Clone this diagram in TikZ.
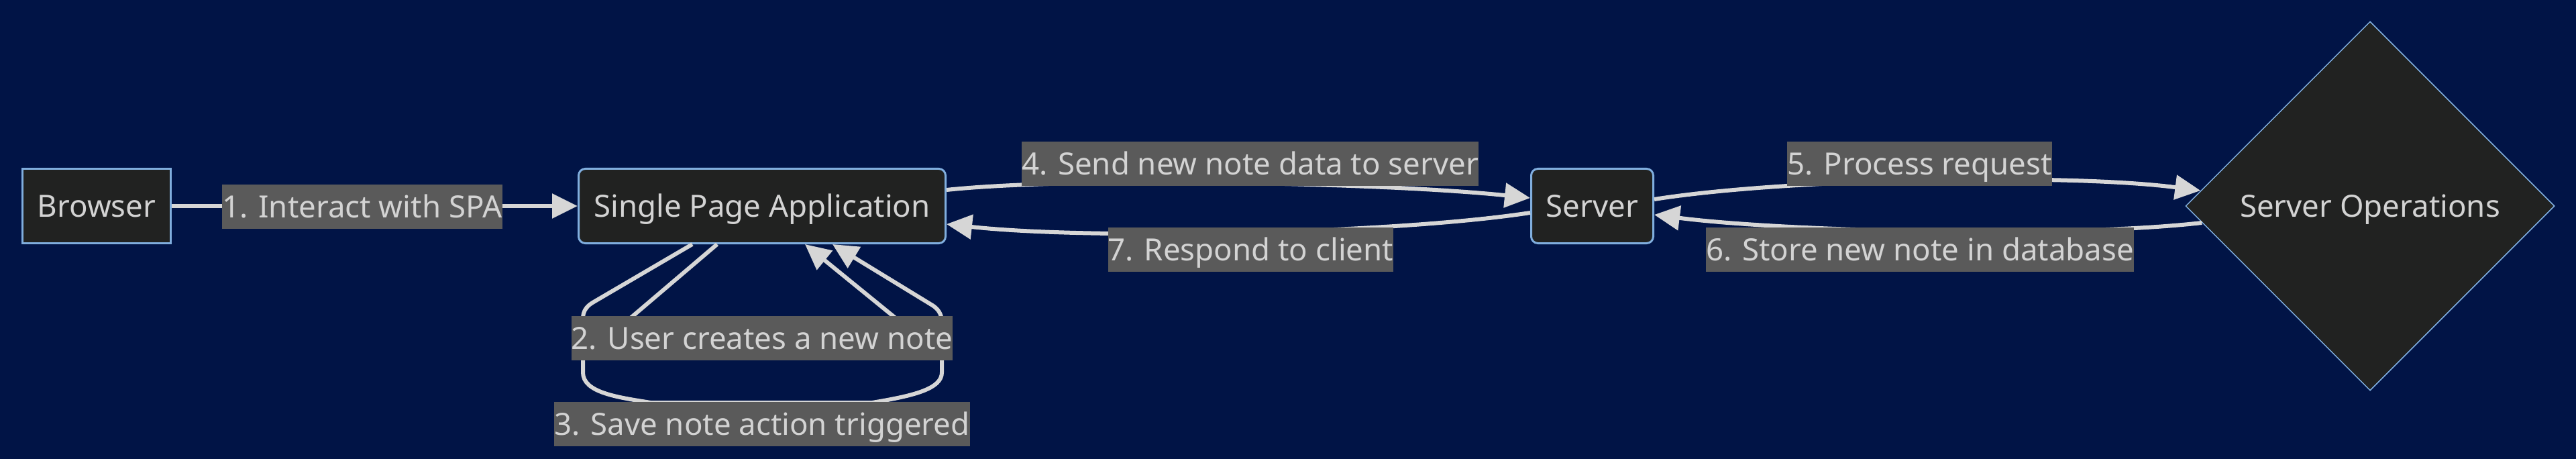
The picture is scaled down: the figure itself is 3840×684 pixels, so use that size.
\documentclass[tikz,border=0pt]{standalone}
\usepackage{fontspec}
\setmainfont{Noto Sans}
\usetikzlibrary{shapes.geometric,arrows.meta,calc}
\definecolor{bgcol}{RGB}{1,20,70}
\definecolor{nodefill}{RGB}{33,34,33}
\definecolor{nodeline}{RGB}{128,174,222}
\definecolor{lblbg}{RGB}{90,90,90}
\definecolor{txtcol}{RGB}{211,211,211}
\definecolor{edgecol}{RGB}{214,214,214}
\tikzset{
  txtbox/.style={text height=22pt, text depth=5.7pt},
  boxnode/.style={txtbox, draw=nodeline, line width=1.5pt, fill=nodefill, text=txtcol,
    minimum height=55.5pt, inner sep=0pt},
  lbl/.style={txtbox, fill=lblbg, text=txtcol, inner xsep=0pt, inner ysep=0pt, minimum height=33pt},
  edge/.style={draw=edgecol, line width=3pt, line join=round,
    -{Triangle[length=19pt,width=18pt]}},
}
\begin{document}
\begin{tikzpicture}[x=0.5pt, y=-0.5pt, font=\fontsize{22.8}{28}\selectfont]
\fill[bgcol] (0,0) rectangle (3840,684);
\useasboundingbox (0,0) rectangle (3840,684);
% nodes
\node[boxnode, minimum width=110.5pt] (browser) at (144,307) {Browser};
\node[boxnode, rounded corners=5pt, minimum width=273.5pt] (spa) at (1136,307) {Single Page Application};
\node[boxnode, rounded corners=5pt, minimum width=91pt] (srv) at (2373.5,307) {Server};
\node[txtbox, draw=nodeline, line width=0.75pt, fill=nodefill, text=txtcol, diamond, aspect=1,
  minimum width=275pt, minimum height=275pt, inner sep=0pt] (ops) at (3533,307) {Server Operations};
% edges
\draw[edge] (browser.east) -- (spa.west);
\draw[edge] ($(spa.south)+(-67,0)$) -- (935,478) -- (1340,478) -- ($(spa.south)+(64,0)$);
\draw[edge] ($(spa.south)+(-104,0)$) -- (885,450) .. controls (866,461) and (869,472) .. (869,490)
  -- (869,555) .. controls (869,585) and (920,592) .. (970,600)
  -- (1300,600) .. controls (1360,590) and (1404,580) .. (1404,555)
  -- (1404,480) .. controls (1404,468) and (1398,460) .. (1390,455)
  -- ($(spa.south)+(105,0)$);
\draw[edge] ($(spa.east)+(0,-24)$) .. controls (1600,263) and (2060,272) .. ($(srv.west)+(0,-12)$);
\draw[edge] ($(srv.east)+(0,-10)$) .. controls (2660,266) and (3080,258) .. ($(ops.west)+(23,-23)$);
\draw[edge] ($(ops.west)+(25,25)$) .. controls (3080,355) and (2660,345) .. ($(srv.east)+(0,13)$);
\draw[edge] ($(srv.west)+(0,10)$) .. controls (2080,348) and (1630,358) .. ($(spa.east)+(0,27)$);
% labels
\node[lbl] (l1) at (540,308) {1. Interact with SPA};
\node[lbl] (l2) at (1136,504) {2. User creates a new note};
\node[lbl] (l3) at (1136,632) {3. Save note action triggered};
\node[lbl] (l4) at (1863.5,244) {4. Send new note data to server};
\node[lbl] (l5) at (2861.5,244) {5. Process request};
\node[lbl] (l6) at (2862,372) {6. Store new note in database};
\node[lbl] (l7) at (1864.5,372) {7. Respond to client};
\end{tikzpicture}
\end{document}
